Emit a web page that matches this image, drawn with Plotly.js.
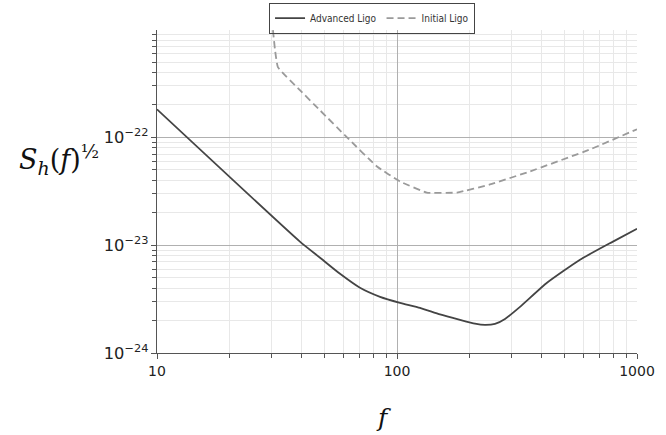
<!DOCTYPE html>
<html>
<head>
<meta charset="utf-8">
<script src="https://cdn.plot.ly/plotly-3.0.1.min.js"></script>
<style>html,body{margin:0;padding:0;background:#fff;}#chart{width:666px;height:435px;}</style>
</head>
<body>
<div id="chart"></div>
<script>
// Advanced LIGO sensitivity curve (frequency in Hz, strain noise amplitude)
const advFreq = [10, 39.4, 47.8, 57.9, 70.1, 85.0, 102.9, 124.7, 151.1, 183.0, 211.3, 232.6, 256, 281.8, 325.5, 421.7, 578.8, 794, 1000];
const advVals = [1.82e-22, 1.08e-23, 7.65e-24, 5.43e-24, 4.03e-24, 3.32e-24, 2.92e-24, 2.62e-24, 2.28e-24, 2.03e-24, 1.87e-24, 1.82e-24, 1.86e-24, 2.07e-24, 2.68e-24, 4.48e-24, 7.33e-24, 1.08e-23, 1.42e-23];
// Initial LIGO sensitivity curve
const iniFreq = [30.1, 31.0, 31.9, 39.4, 47.8, 61.9, 82.5, 102.9, 133, 178, 244, 358, 637, 1000];
const iniVals = [1.25e-21, 6.59e-22, 4.48e-22, 2.74e-22, 1.78e-22, 1.0e-22, 5.37e-23, 3.9e-23, 3.08e-23, 3.08e-23, 3.66e-23, 4.83e-23, 7.73e-23, 1.19e-22];
const seriesNames = ["Advanced Ligo", "Initial Ligo"];
const xTickVals = [10, 100, 1000];
const xTickText = ["10", "100", "1000"];

const traces = [
  {x: advFreq, y: advVals, name: seriesNames[0], mode: "lines",
   line: {color: "#444444", width: 1.8, shape: "spline", smoothing: 0.5}},
  {x: iniFreq, y: iniVals, name: seriesNames[1], mode: "lines",
   line: {color: "#9a9a9a", width: 1.8, dash: "7px,4px", shape: "spline", smoothing: 0.35}}
];

const layout = {
  width: 666, height: 435,
  margin: {l: 157, r: 29, t: 30, b: 82, autoexpand: false},
  paper_bgcolor: "#ffffff", plot_bgcolor: "#ffffff",
  font: {family: "DejaVu Sans, sans-serif", color: "#222", size: 13},
  showlegend: true,
  legend: {orientation: "h", x: 0.448, xanchor: "center", y: 1.085, yanchor: "top",
    bgcolor: "rgba(255,255,255,0)",
    bordercolor: "#444", borderwidth: 1, font: {size: 10, family: "DejaVu Sans Condensed, DejaVu Sans, sans-serif", color: "#333"},
    itemwidth: 30, tracegroupgap: 0},
  xaxis: {type: "log", range: [1, 3], tickvals: xTickVals, ticktext: xTickText,
    showline: true, linecolor: "#555", linewidth: 1, mirror: false,
    ticks: "outside", ticklen: 5, tickcolor: "#555",
    showgrid: true, gridcolor: "#b0b0b0", gridwidth: 1, zeroline: false,
    tickfont: {size: 14},
    minor: {dtick: "D1", ticks: "outside", ticklen: 4, tickcolor: "#555", showgrid: true, gridcolor: "#e8e8e8", gridwidth: 1}},
  yaxis: {type: "log", range: [-24, -21.004], dtick: 1, exponentformat: "power",
    showline: true, linecolor: "#555", linewidth: 1,
    ticks: "outside", ticklen: 5, tickcolor: "#555",
    showgrid: true, gridcolor: "#b0b0b0", gridwidth: 1, zeroline: false,
    tickfont: {size: 13},
    minor: {dtick: "D1", ticks: "outside", ticklen: 4, tickcolor: "#555", showgrid: true, gridcolor: "#e8e8e8", gridwidth: 1}},
  annotations: [
    {text: "<i>S</i><sub><i>h</i></sub>(<i>f</i>)<sup>½</sup>", xref: "paper", yref: "paper",
     x: -0.205, y: 0.6, xanchor: "center", yanchor: "middle", showarrow: false,
     font: {family: "DejaVu Serif, Liberation Serif, serif", size: 27, color: "#111"}},
    {text: "<i>f</i>", xref: "paper", yref: "paper", x: 0.471, y: -0.2,
     xanchor: "center", yanchor: "middle", showarrow: false,
     font: {family: "DejaVu Serif, Liberation Serif, serif", size: 25, color: "#111"}}
  ]
};

Plotly.newPlot("chart", traces, layout, {staticPlot: true, displayModeBar: false});
</script>
</body>
</html>
